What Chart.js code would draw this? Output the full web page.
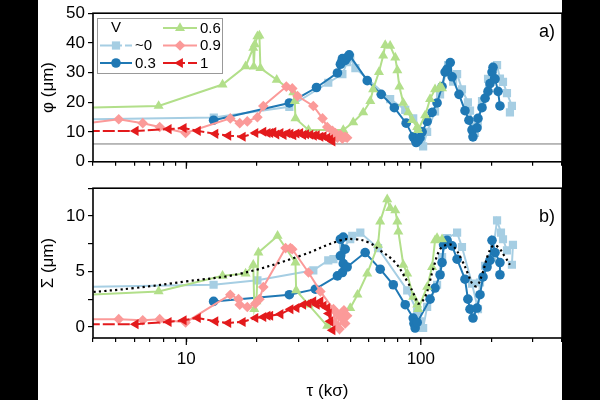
<!DOCTYPE html>
<html><head><meta charset="utf-8">
<script src="https://cdn.jsdelivr.net/npm/chart.js@4/dist/chart.umd.min.js"></script>
<style>
html,body{margin:0;padding:0;background:#000;width:600px;height:400px;overflow:hidden}
#wrap{position:absolute;left:38px;top:0;width:524px;height:400px;background:#fff}
#ca{position:absolute;left:0;top:0;width:600px;height:175px}
#cb{position:absolute;left:0;top:175px;width:600px;height:225px}
</style></head><body>
<div id="wrap"></div>
<canvas id="ca" width="600" height="175"></canvas>
<canvas id="cb" width="600" height="225"></canvas>
<script>
// ---------- panel a) : phi (um) vs tau (k sigma) ----------
const tauA0 = [3.8, 13.1, 27.5, 40.3, 46.3, 48.5, 50.0, 52.6, 74.0, 85.8, 92.8, 97.4, 99.3, 102.3, 106.4, 115, 120.8, 130.7, 137.3, 142.8, 149.8, 158.8, 162.1, 166.9, 170.2, 175, 182.4, 193.5, 207, 211.4, 217.5, 224.1, 233, 244.6, 239.9];
const phiA0 = [14.3, 14.9, 18.5, 26.6, 29.5, 33.5, 35.0, 31.5, 21.1, 17.5, 14.6, 10.5, 6.5, 5.2, 10.1, 17, 22.7, 32.5, 27, 29.5, 24.4, 20, 17.2, 11.7, 9.7, 13, 20.4, 27.9, 32, 32.5, 28, 26.9, 23.1, 18.8, 16.6];

const tauA3 = [13.07, 27.5, 35.9, 44.1, 45.4, 46.3, 45.8, 47.6, 48.5, 49.5, 59.1, 67.8, 77.1, 86.6, 92.8, 94.6, 95.5, 97.4, 99.3, 101.3, 106.4, 111.7, 117.3, 123.2, 126.9, 129.4, 133.5, 136, 145.5, 154.3, 160.4, 165.3, 166.9, 173.6, 175.3, 182.4, 187.9, 193.5, 197.2, 201.2, 203.2, 207.3, 213.5, 217.5];
const phiA3 = [14.0, 19.8, 25.0, 29.9, 32.8, 34.7, 33.4, 34.1, 35.1, 36.0, 27.3, 22.7, 18.2, 13.0, 8.4, 7.5, 6.5, 7.1, 8.1, 10.1, 13.6, 16.6, 19.8, 25.3, 30.2, 31.2, 33.4, 28.6, 22.7, 17.2, 14.0, 10.7, 8.4, 11.4, 14.6, 18.2, 21.4, 23.7, 26.3, 30.2, 31.8, 27.9, 23.7, 18.8];

const tauA6 = [3.8, 7.62, 14.27, 17.9, 19.3, 19.4, 19.6, 20.1, 20.5, 20.7, 24.3, 28.6, 29.0, 29.2, 33.2, 46.7, 51.5, 56.8, 60.9, 62.6, 66.3, 69.1, 70.5, 74.0, 77.8, 79.4, 81.0, 84.2, 88.3, 91.9, 96.5, 97.4, 104.3, 109.5, 115, 120.8, 123.2];
const phiA6 = [18.2, 18.8, 26.0, 32.1, 38.3, 32.0, 39.5, 42.2, 42.5, 31.5, 27.6, 23.4, 20.4, 14.6, 10.7, 10.7, 13.3, 16.6, 20.4, 24.4, 30.2, 35.7, 39.3, 39.0, 35.1, 30.8, 25.3, 19.8, 16.6, 14.0, 11.7, 10.7, 15.6, 21.1, 24.4, 25.3, 24.7];

const tauA9 = [3.8, 5.15, 6.52, 7.70, 9.93, 15.4, 16.9, 18.2, 20.1, 21.3, 26.7, 28.3, 29.8, 34.8, 38.1, 39.9, 42.0, 42.4, 43.2, 44.1, 45.4, 46.3, 47.6, 48.5];
const phiA9 = [13.0, 14.3, 13.0, 11.7, 9.7, 14.6, 13.0, 13.6, 15.0, 18.8, 25.3, 24.7, 22.1, 18.8, 14.6, 11.7, 10.4, 8.4, 9.7, 8.1, 9.1, 7.8, 8.4, 8.1];

const tauA1 = [3.8, 6.08, 8.41, 9.74, 11.2, 13.3, 15.1, 17.4, 19.7, 21.3, 22.2, 22.8, 23.5, 24.2, 25.2, 26.0, 27.0, 27.8, 28.6, 29.5, 30.6, 31.5, 32.4, 33.8, 35.0, 36.0, 37.3, 38.5, 39.9, 41.0, 42.0];
const phiA1 = [10.4, 10.4, 11.0, 11.4, 10.4, 9.4, 8.8, 8.4, 9.7, 10.1, 9.7, 9.7, 10.0, 9.2, 9.7, 9.0, 9.6, 9.4, 8.9, 9.5, 9.7, 9.0, 9.3, 9.1, 8.8, 8.9, 8.4, 8.6, 8.1, 7.6, 6.8];

const refTau = [4, 400];
const refPhi = [6, 6];

// ---------- panel b) : Sigma (um) vs tau (k sigma) ----------
const tauB0 = [3.8, 13.07, 20.1, 34.8, 40.3, 42.4, 46.7, 50.0, 51.0, 55.2, 65.7, 87.5, 96.5, 99.3, 102.3, 106.4, 117.3, 123.2, 129.4, 142.8, 149.8, 165.3, 175.3, 178.8, 187.9, 201.2, 211.4, 219.7, 224.1, 233, 247.1, 244.6];
const sigB0 = [3.6, 3.8, 4.2, 5.1, 6.0, 6.1, 7.1, 7.9, 8.2, 8.5, 7.1, 3.3, 1.4, 0.5, -0.1, 1.8, 3.8, 6.3, 8.0, 8.5, 7.2, 3.9, 1.6, 4.0, 5.5, 6.2, 9.6, 8.5, 7.9, 6.9, 7.4, 5.6];

const tauB3 = [13.07, 27.5, 35.5, 44.1, 46.3, 45.4, 46.7, 45.4, 47.6, 46.7, 48.5, 57.9, 67.1, 76.3, 85.8, 92.8, 93.5, 94.6, 96.5, 109.5, 115, 120.8, 123.2, 125, 129.4, 136, 142.8, 154.3, 158.8, 162.1, 166.9, 173.6, 178.8, 184.2, 191.6, 197.2, 201.2, 207.3, 217.5, 217.5];
const sigB3 = [2.3, 2.9, 3.4, 4.6, 4.9, 6.4, 8.1, 7.9, 7.0, 5.7, 5.4, 6.7, 5.2, 3.8, 2.0, 0.8, 0.3, -0.1, 0.4, 2.5, 3.5, 4.7, 5.8, 7.4, 7.8, 7.3, 6.1, 4.3, 2.5, 1.6, 0.8, 1.7, 2.9, 4.5, 5.4, 6.0, 7.8, 6.7, 5.8, 4.7];

const tauB6 = [3.8, 7.62, 14.27, 17.9, 19.3, 19.5, 19.9, 20.3, 24.5, 29.2, 29.4, 33.2, 39.9, 50.0, 53.7, 59.1, 65.7, 67.1, 71.9, 74.0, 77.8, 79.4, 80.2, 84.2, 87.5, 92.8, 96.5, 97.4, 106.4, 111.7, 115, 117.3, 123.2];
const sigB6 = [2.9, 3.2, 4.6, 4.8, 5.6, 1.6, 2.3, 6.7, 8.2, 5.8, 3.3, 2.0, 0.1, 1.7, 2.9, 4.8, 7.4, 9.5, 11.5, 10.7, 10.5, 9.5, 8.6, 5.6, 4.8, 2.7, 2.0, 1.6, 3.6, 5.4, 7.8, 8.0, 7.9];

const tauB9 = [3.8, 5.15, 6.52, 7.70, 9.93, 15.4, 16.7, 16.9, 18.2, 19.7, 20.5, 21.3, 26.5, 27.8, 28.3, 33.2, 37.3, 42.4, 43.0, 44.1, 45.0, 46.0, 47.0, 48.5, 47.6];
const sigB9 = [0.7, 0.7, 0.6, 0.7, 0.4, 2.9, 2.5, 2.0, 1.8, 2.1, 2.5, 3.6, 7.1, 7.1, 7.0, 4.9, 3.2, 1.6, 0.3, 1.2, -0.2, 0.8, 1.5, 1.0, 0.3];

const tauB1 = [3.8, 6.08, 8.41, 9.74, 11.2, 13.3, 15.1, 17.4, 19.7, 21.3, 22.2, 22.8, 25.2, 27.8, 29.5, 31.5, 33.2, 34.8, 36.0, 37.3, 38.5, 39.9, 40.5, 41.1, 42.0];
const sigB1 = [0.25, 0.25, 0.45, 0.6, 0.8, 0.5, 0.35, 0.45, 0.8, 0.9, 1.0, 1.0, 1.15, 1.6, 1.7, 2.0, 2.1, 2.3, 2.0, 2.3, 1.9, 1.7, 1.2, 0.5, -0.3];

const tauFit = [3.8, 6, 10, 17, 30.6, 45.4, 52.6, 60, 67.1, 77.8, 87.5, 94.6, 97.4, 104.3, 112.8, 120.8, 129.4, 137.3, 149.8, 158.8, 166.9, 173.6, 182.4, 193.5, 203, 213.5, 228.6, 239.9];
const sigFit = [3.1, 3.5, 4.1, 4.8, 6.4, 7.8, 7.9, 7.6, 6.9, 5.8, 4.1, 2.7, 2.1, 2.7, 5.2, 7.0, 7.4, 7.3, 6.0, 4.8, 3.8, 3.7, 4.7, 6.5, 7.3, 7.2, 6.3, 5.6];

// ---------- tick / label lists ----------
const xTickVals = [4,5,6,7,8,9,10,20,30,40,50,60,70,80,90,100,200,300,400];
const xMajor = [10, 100];
const yTicksA = [0,5,10,15,20,25,30,35,40,45,50];
const yLabelsA = [0,10,20,30,40,50];
const yTicksB = [0,2.5,5,7.5,10,12.5];
const yLabelsB = [0,5,10];
const legendLabels = ['~0','0.3','0.6','0.9','1'];

const C = {v0:'#a6cee3', v3:'#1f78b4', v6:'#b2df8a', v9:'#fb9a99', v1:'#e31a1c'};
const FONT = "'Liberation Sans', Arial, sans-serif";

function pts(xs, ys){ return xs.map((x,i)=>({x:x, y:ys[i]})); }

function series(xs, ys, color, style, extra){
  return Object.assign({
    data: pts(xs, ys), borderColor: color, backgroundColor: color,
    borderWidth: 2, pointStyle: style, pointRadius: 4.8, pointBorderWidth: 0,
    pointBackgroundColor: color, showLine: true, tension: 0
  }, extra || {});
}

function buildSets(panel){
  const A = panel === 'a';
  const sets = [];
  if (!A) sets.push({data: pts(tauFit, sigFit), borderColor:'#000', borderWidth:2.2, borderDash:[2.2,3.3],
    pointRadius:0, tension:0.4, showLine:true});
  sets.push(series(A?tauA1:tauB1, A?phiA1:sigB1, C.v1, 'triangle', {pointRotation:-90, pointRadius:5.8, borderDash:[12,3]}));
  sets.push(series(A?tauA9:tauB9, A?phiA9:sigB9, C.v9, 'rectRot', {pointRadius:5.3}));
  sets.push(series(A?tauA6:tauB6, A?phiA6:sigB6, C.v6, 'triangle', {pointRadius:5.8}));
  sets.push(series(A?tauA3:tauB3, A?phiA3:sigB3, C.v3, 'circle', {pointRadius:4.8}));
  sets.push(series(A?tauA0:tauB0, A?phiA0:sigB0, C.v0, 'rect', {pointRadius:5.8}));
  if (A) sets.push({data: pts(refTau, refPhi), borderColor:'#777', borderWidth:1, pointRadius:0, showLine:true});
  return sets;
}

function drawMarker(ctx, style, x, y, r, color){
  ctx.save(); ctx.fillStyle = color; ctx.beginPath();
  if (style === 'circle'){ ctx.arc(x,y,r,0,Math.PI*2); }
  else if (style === 'rect'){ const s = r*Math.SQRT1_2; ctx.rect(x-s,y-s,2*s,2*s); }
  else if (style === 'diamond'){ ctx.moveTo(x,y-r); ctx.lineTo(x+r,y); ctx.lineTo(x,y+r); ctx.lineTo(x-r,y); ctx.closePath(); }
  else if (style === 'tri'){ ctx.moveTo(x, y-r); ctx.lineTo(x+r*0.866, y+r*0.5); ctx.lineTo(x-r*0.866, y+r*0.5); ctx.closePath(); }
  else if (style === 'triL'){ ctx.moveTo(x-r, y); ctx.lineTo(x+r*0.5, y-r*0.866); ctx.lineTo(x+r*0.5, y+r*0.866); ctx.closePath(); }
  ctx.fill(); ctx.restore();
}

const framePlugin = {
  id:'frame',
  afterDraw(chart){
    const ctx = chart.ctx, a = chart.chartArea, xs = chart.scales.x;
    ctx.save();
    ctx.strokeStyle = '#000'; ctx.lineWidth = 1.6;
    ctx.strokeRect(a.left, a.top, a.right-a.left, a.bottom-a.top);
    ctx.lineWidth = 1.2;
    xMajor.forEach(v=>{ const px = xs.getPixelForValue(v); ctx.beginPath(); ctx.moveTo(px, a.bottom); ctx.lineTo(px, a.bottom+7); ctx.stroke(); });
    ctx.fillStyle = '#000'; ctx.font = '18px ' + FONT; ctx.textBaseline = 'middle'; ctx.textAlign = 'left';
    const tag = chart.options.plugins.frame.tag;
    ctx.fillText(tag, a.right-23, a.top + (tag==='a)'?19:29));
    ctx.restore();
  }
};

const legendPlugin = {
  id:'boxLegend',
  afterDraw(chart){
    if (!chart.options.plugins.boxLegend.show) return;
    const ctx = chart.ctx;
    ctx.save();
    ctx.fillStyle = '#fff'; ctx.fillRect(97.5,18.5,125,55);
    ctx.strokeStyle = '#999'; ctx.lineWidth = 1; ctx.strokeRect(97.5,18.5,125,55);
    ctx.font = '15px ' + FONT; ctx.fillStyle = '#000'; ctx.textBaseline = 'middle'; ctx.textAlign='left';
    ctx.fillText('V', 111, 28);
    const items = [
      {t:legendLabels[0], c:C.v0, s:'rect', r:5.8, col:0, row:1, dash:[22,3]},
      {t:legendLabels[1], c:C.v3, s:'circle', r:4.8, col:0, row:2},
      {t:legendLabels[2], c:C.v6, s:'tri', r:5.8, col:1, row:0},
      {t:legendLabels[3], c:C.v9, s:'diamond', r:5.3, col:1, row:1},
      {t:legendLabels[4], c:C.v1, s:'triL', r:5.8, col:1, row:2, dash:[22,3]}
    ];
    items.forEach(it=>{
      const x0 = it.col ? 163 : 100, x1 = it.col ? 197 : 132, y = [28,45.5,63][it.row];
      ctx.strokeStyle = it.c; ctx.lineWidth = 2; ctx.setLineDash(it.dash||[]);
      ctx.beginPath(); ctx.moveTo(x0,y); ctx.lineTo(x1,y); ctx.stroke(); ctx.setLineDash([]);
      drawMarker(ctx, it.s, (x0+x1)/2, y, it.r, it.c);
      ctx.fillStyle = '#000'; ctx.fillText(it.t, x1+3, y+0.5);
    });
    ctx.restore();
  }
};

function makeChart(id, panel){
  const A = panel === 'a';
  return new Chart(document.getElementById(id), {
    type:'scatter',
    data:{datasets: buildSets(panel)},
    plugins:[framePlugin, legendPlugin],
    options:{
      responsive:false, animation:false,
      layout:{padding:{left:38, right:38, top:9, bottom:0}},
      plugins:{legend:{display:false}, tooltip:{enabled:false}, frame:{tag: A?'a)':'b)'}, boxLegend:{show:A}},
      scales:{
        x:{type:'logarithmic', min:4, max:400,
          afterBuildTicks(s){ s.ticks = xTickVals.map(v=>({value:v})); },
          afterFit(s){ s.height = A ? 12 : 62; },
          border:{display:false},
          grid:{drawOnChartArea:false, drawTicks:true, tickLength:4, color:'#000', lineWidth:1.2},
          ticks:{display:!A, autoSkip:false, maxRotation:0, color:'#000', padding:7, font:{family:FONT, size:17},
            callback:(v)=> xMajor.includes(v) ? String(v) : ''},
          title:{display:!A, text:'τ (kσ)', color:'#000', font:{family:FONT, size:17, lineHeight:1}, padding:{top:0, bottom:0}}
        },
        y:{min: A?0:-1, max: A?50:12.5,
          afterBuildTicks(s){ s.ticks = (A?yTicksA:yTicksB).map(v=>({value:v})); },
          afterFit(s){ s.width = 55; },
          border:{display:false},
          grid:{drawOnChartArea:false, drawTicks:true, tickLength:5, color:'#000', lineWidth:1.2},
          ticks:{color:'#000', padding:3, font:{family:FONT, size:17},
            callback:(v)=> (A?yLabelsA:yLabelsB).includes(v) ? String(v) : ''},
          title:{display:true, text: A?'φ (μm)':'Σ (μm)', color:'#000', font:{family:FONT, size:17}, padding:{top:0, bottom:0}}
        }
      }
    }
  });
}
makeChart('ca','a');
makeChart('cb','b');
</script>
</body></html>
